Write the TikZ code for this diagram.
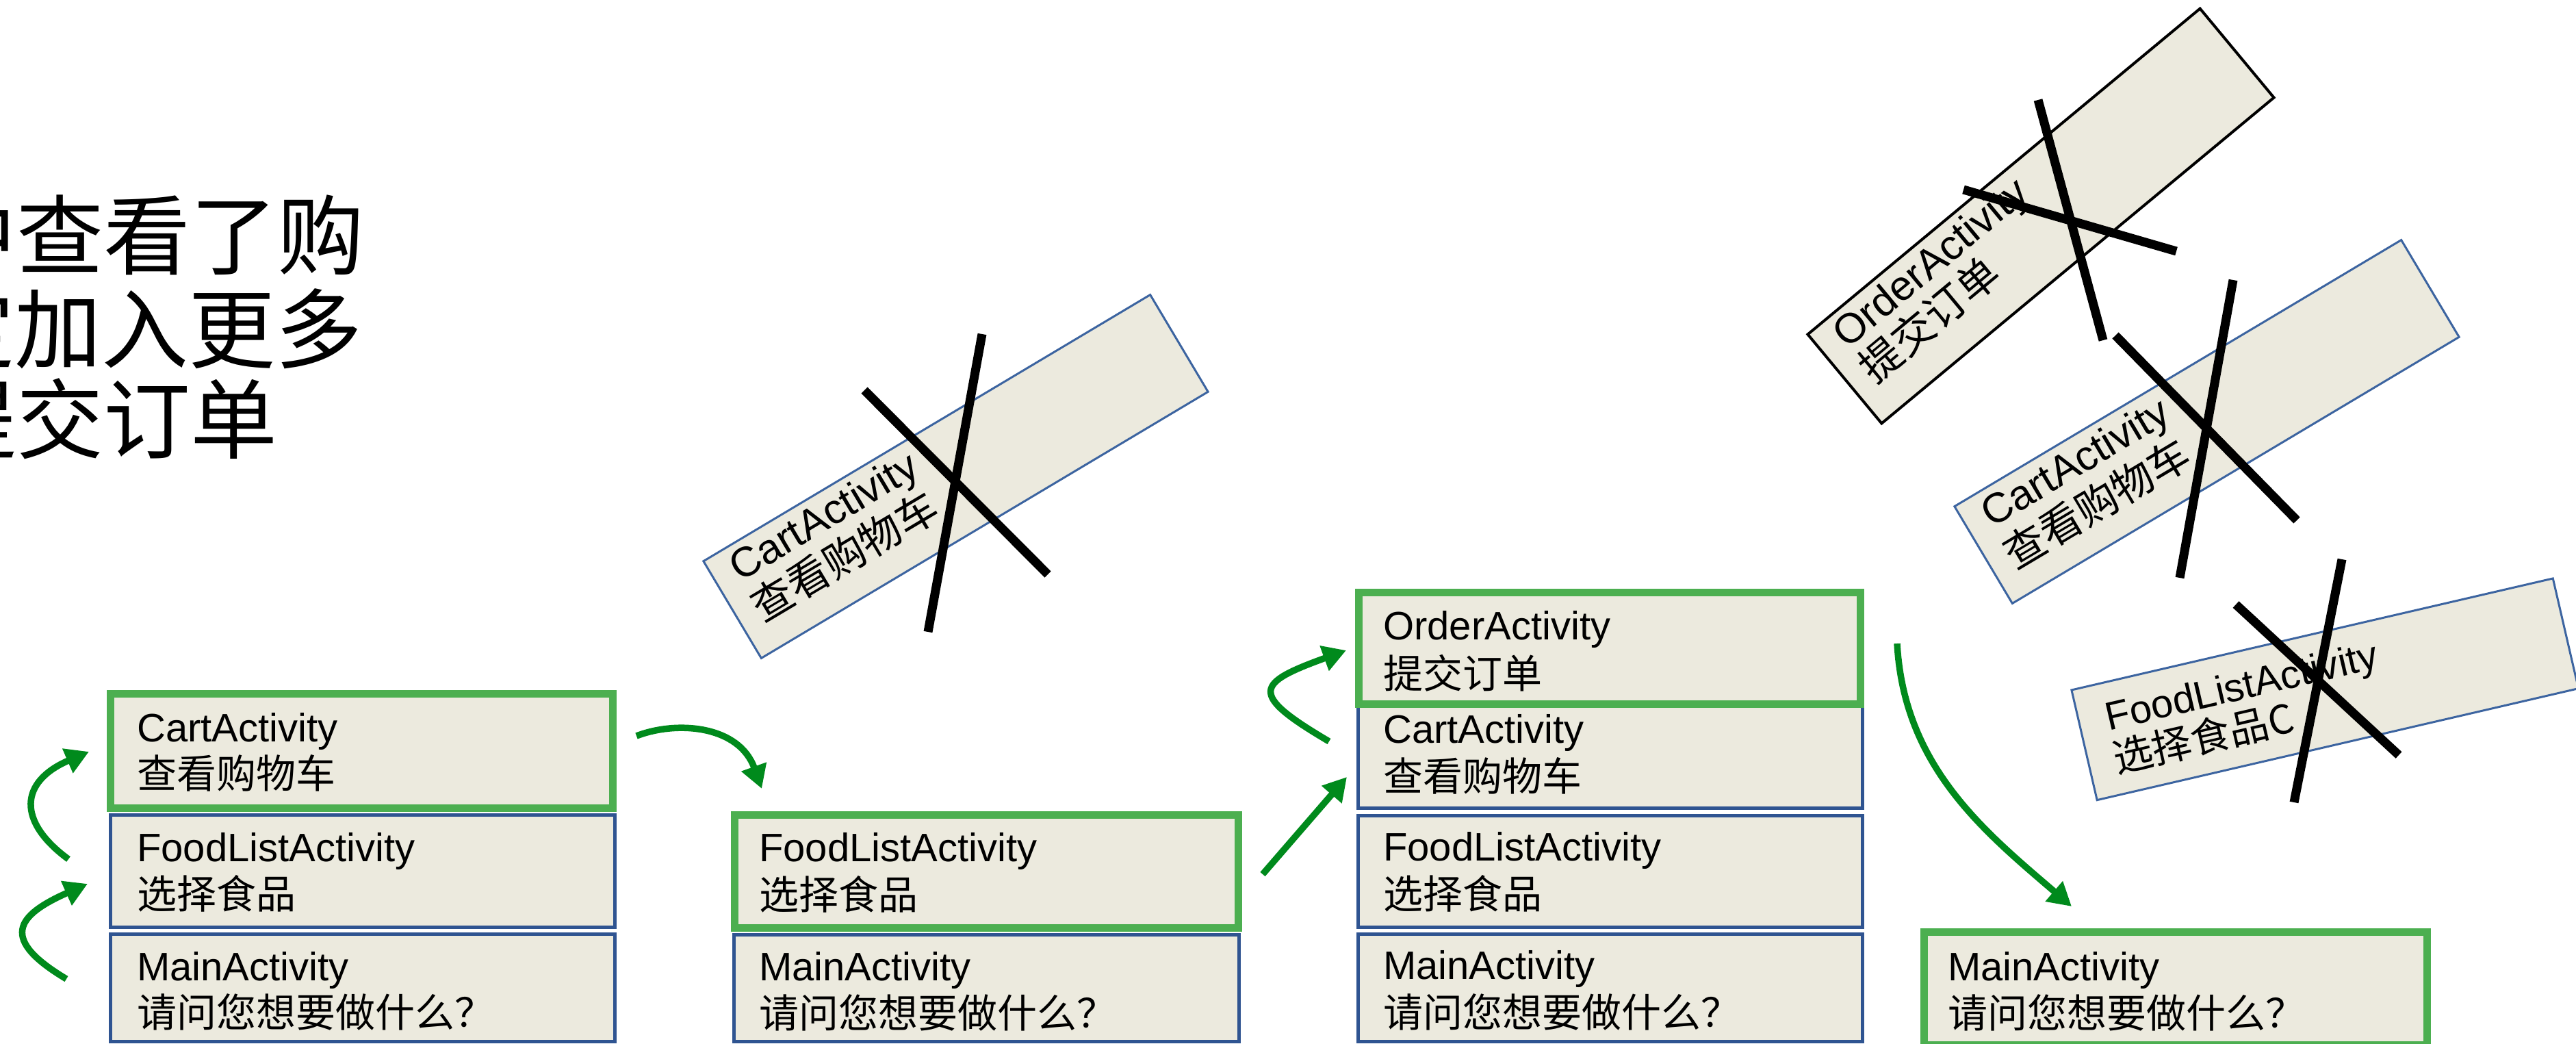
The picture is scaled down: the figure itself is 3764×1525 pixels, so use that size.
\documentclass[tikz,border=0pt]{standalone}
\usepackage{fontspec}
\setmainfont{Liberation Sans}
\newfontfamily\cjk{Noto Sans CJK SC}
\usetikzlibrary{arrows.meta}
\definecolor{boxfill}{RGB}{236,234,222}
\definecolor{boxblue}{RGB}{47,84,145}
\definecolor{rboxblue}{RGB}{60,100,160}
\definecolor{boxgreen}{RGB}{76,175,80}
\definecolor{arrgreen}{RGB}{0,138,28}
\begin{document}
\begin{tikzpicture}[x=1pt,y=-1pt,
  bbox/.style={draw=boxblue, line width=5pt, fill=boxfill, inner sep=0pt, outer sep=0pt},
  gbox/.style={draw=boxgreen, line width=11pt, fill=boxfill, inner sep=0pt, outer sep=0pt},
  rbox/.style={draw=rboxblue, line width=3pt, fill=boxfill, inner sep=0pt, outer sep=0pt},
  kbox/.style={draw=black, line width=4pt, fill=boxfill, inner sep=0pt, outer sep=0pt},
  en/.style={font=\fontsize{58}{58}\selectfont, inner sep=0pt, anchor=base west},
  zh/.style={font=\cjk\fontsize{58}{58}\selectfont, inner sep=0pt, anchor=base west},
  enr/.style={font=\fontsize{61}{61}\selectfont, inner sep=0pt, anchor=base west},
  zhr/.style={font=\cjk\fontsize{61}{61}\selectfont, inner sep=0pt, anchor=base west},
  big/.style={font=\cjk\fontsize{127}{127}\selectfont, inner sep=0pt, anchor=base west},
  xline/.style={line width=13pt, draw=black},
  arr/.style={draw=arrgreen, line width=9.5pt, -{Triangle[length=34pt,width=37pt]}}
]
\useasboundingbox (0,0) rectangle (3764,1525);
\fill[white] (0,0) rectangle (3764,1525);
\clip (0,0) rectangle (3764,1525);

% ---- big text on the left ----
\node[big] (t1) at (-102.5,391) {中查看了购};
\node[big] (t2) at (-105.5,528) {定加入更多};
\node[big] (t3) at (-102.5,660) {提交订单};

% ---- stack 1 ----
\node[gbox, minimum width=734pt, minimum height=167pt] (s1cart) at (528.5,1097) {};
\node[bbox, minimum width=737pt, minimum height=164pt] (s1food) at (530,1272.5) {};
\node[bbox, minimum width=737pt, minimum height=157pt] (s1main) at (530,1443) {};
\node[en] (s1cartA) at (200,1083) {CartActivity};
\node[zh] (s1cartB) at (200,1151) {查看购物车};
\node[en] (s1foodA) at (200,1258) {FoodListActivity};
\node[zh] (s1foodB) at (200,1327) {选择食品};
\node[en] (s1mainA) at (200,1432) {MainActivity};
\node[zh] (s1mainB) at (200,1500) {请问您想要做什么？};

% ---- stack 2 ----
\node[bbox, minimum width=738pt, minimum height=156pt] (s2main) at (1441.5,1443.5) {};
\node[gbox, minimum width=736pt, minimum height=165pt] (s2food) at (1441.5,1273) {};
\node[en] (s2foodA) at (1109,1258) {FoodListActivity};
\node[zh] (s2foodB) at (1109,1328) {选择食品};
\node[en] (s2mainA) at (1109,1432) {MainActivity};
\node[zh] (s2mainB) at (1109,1501) {请问您想要做什么？};

% ---- stack 3 ----
\node[bbox, minimum width=737pt, minimum height=170pt] (s3cart) at (2353,1095.5) {};
\node[bbox, minimum width=737pt, minimum height=163pt] (s3food) at (2353,1273) {};
\node[bbox, minimum width=737pt, minimum height=157pt] (s3main) at (2353,1443) {};
\node[gbox, minimum width=733pt, minimum height=163pt] (s3order) at (2352,947) {};
\node[en] (s3orderA) at (2021,934) {OrderActivity};
\node[zh] (s3orderB) at (2021,1005) {提交订单};
\node[en] (s3cartA) at (2021,1085) {CartActivity};
\node[zh] (s3cartB) at (2021,1155) {查看购物车};
\node[en] (s3foodA) at (2021,1257) {FoodListActivity};
\node[zh] (s3foodB) at (2021,1327) {选择食品};
\node[en] (s3mainA) at (2021,1430) {MainActivity};
\node[zh] (s3mainB) at (2021,1500) {请问您想要做什么？};

% ---- final main ----
\node[gbox, minimum width=735pt, minimum height=165pt] (fmain) at (3179,1444) {};
\node[en] (fmainA) at (2846,1432) {MainActivity};
\node[zh] (fmainB) at (2846,1501) {请问您想要做什么？};

% ---- rotated boxes ----
\begin{scope}[shift={(1396.5,696)}, rotate=30.8, transform shape]
  \node[rbox, minimum width=760pt, minimum height=165pt] (r1) at (0,0) {};
  \node[enr] (r1A) at (-350,-28.5) {CartActivity};
  \node[zhr] (r1B) at (-352,39.5) {查看购物车};
\end{scope}
\begin{scope}[shift={(2982,315.5)}, rotate=39.7, transform shape]
  \node[kbox, minimum width=745pt, minimum height=169pt] (r2) at (0,0) {};
  \node[enr] (r2A) at (-342.5,-30.5) {OrderActivity};
  \node[zhr] (r2B) at (-344.5,35.5) {提交订单};
\end{scope}
\begin{scope}[shift={(3224.5,616)}, rotate=30.8, transform shape]
  \node[rbox, minimum width=760pt, minimum height=165pt] (r3) at (0,0) {};
  \node[enr] (r3A) at (-350,-27) {CartActivity};
  \node[zhr] (r3B) at (-352,43) {查看购物车};
\end{scope}
\begin{scope}[shift={(3397.2,1006.8)}, rotate=13.05, transform shape]
  \node[rbox, minimum width=722pt, minimum height=165pt] (r4) at (0,0) {};
  \node[en] (r4A) at (-321,-12.5) {FoodListActivity};
  \node[zh] (r4B) at (-324,50.5) {选择食品C};
\end{scope}

% ---- crosses ----
\draw[xline] (1435,488) -- (1356,923);
\draw[xline] (1263,570) -- (1531,839);
\draw[xline] (2978,146) -- (3073,497);
\draw[xline] (2869,277) -- (3180,367);
\draw[xline] (3263,409) -- (3185,844);
\draw[xline] (3091,490) -- (3356,760);
\draw[xline] (3422,817) -- (3352,1172);
\draw[xline] (3267,883) -- (3505,1103);

% ---- arrows ----
\coordinate (a1s) at (100,1255); \coordinate (a1e) at (130,1098);
\coordinate (a2s) at (97,1430);  \coordinate (a2e) at (128,1291);
\coordinate (a3s) at (930,1075); \coordinate (a3e) at (1113,1152);
\coordinate (a4s) at (1845,1277); \coordinate (a4e) at (1968,1135);
\coordinate (a5s) at (1942,1083); \coordinate (a5e) at (1967,950);
\coordinate (a6s) at (2772,940); \coordinate (a6e) at (3027,1324);
\draw[arr] (a1s) .. controls (25,1200) and (28,1142) .. (a1e);
\draw[arr] (a2s) .. controls (0,1372) and (22,1338) .. (a2e);
\draw[arr] (a3s) .. controls (990,1052) and (1080,1060) .. (a3e);
\draw[arr] (a4s) -- (a4e);
\draw[arr] (a5s) .. controls (1823,1013) and (1835,998) .. (a5e);
\draw[arr] (a6s) .. controls (2782,1120) and (2900,1215) .. (a6e);
\end{tikzpicture}
\end{document}
